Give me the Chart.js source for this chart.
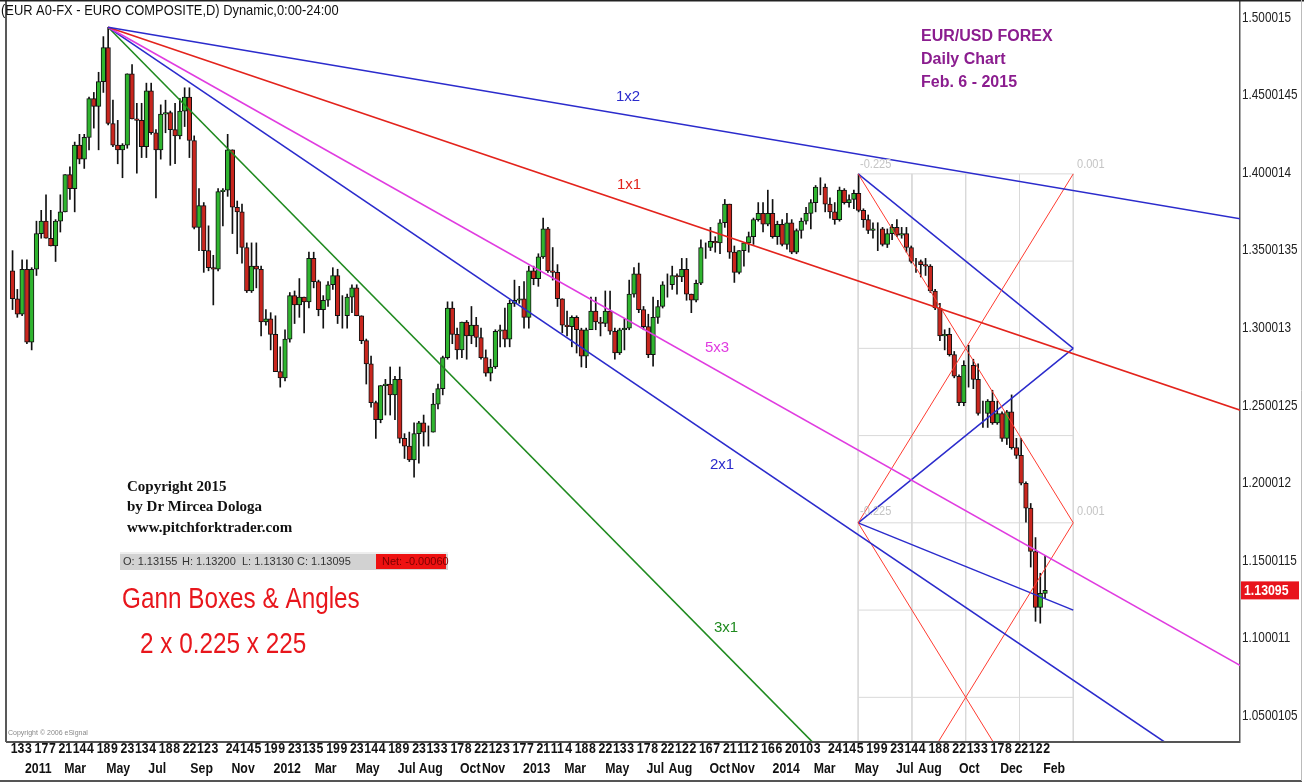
<!DOCTYPE html>
<html>
<head>
<meta charset="utf-8">
<script src="https://cdn.jsdelivr.net/npm/chart.js"></script>
<style>
html, body { margin: 0; padding: 0; background: #fff; }
#wrap { width: 1314px; height: 783px; }
</style>
</head>
<body>
<div id="wrap"><canvas id="chart" width="1314" height="783"></canvas></div>
<script>
// weeks are counted from Mon 3 Jan 2011 (week 0); first bar is the week of 13 Dec 2010
const firstWeek = -3;

const opens = [
  1.3370,1.3190,1.3090,1.3380,1.2910,1.3380,1.3610,1.3690,1.3580,1.3530,
  1.3690,1.3750,1.3990,1.3900,1.4180,1.4090,1.4230,1.4480,1.4430,1.4590,
  1.4810,1.4320,1.4180,1.4150,1.4180,1.4640,1.4350,1.4340,1.4170,1.4530,
  1.4260,1.4150,1.4380,1.4390,1.4280,1.4240,1.4400,1.4490,1.4210,1.3650,
  1.3790,1.3500,1.3390,1.3380,1.3880,1.3890,1.4150,1.3780,1.3750,1.3520,
  1.3240,1.3400,1.3380,1.3040,1.3060,1.2960,1.2720,1.2680,1.2930,1.3210,
  1.3150,1.3200,1.3170,1.3450,1.3300,1.3120,1.3180,1.3280,1.3340,1.3080,
  1.3080,1.3200,1.3260,1.3080,1.2920,1.2770,1.2520,1.2410,1.2630,1.2640,
  1.2570,1.2670,1.2290,1.2240,1.2150,1.2320,1.2390,1.2330,1.2330,1.2510,
  1.2610,1.2810,1.3130,1.2960,1.2860,1.3040,1.2950,1.3020,1.2940,1.2810,
  1.2710,1.2750,1.2980,1.2990,1.2930,1.3160,1.3180,1.3190,1.3070,1.3370,
  1.3320,1.3460,1.3640,1.3370,1.3360,1.3190,1.3020,1.3010,1.3070,1.2990,
  1.2820,1.2990,1.3110,1.3040,1.3030,1.3110,1.2980,1.2840,1.2990,1.3000,
  1.3220,1.3350,1.3120,1.3010,1.2830,1.3070,1.3140,1.3280,1.3280,1.3340,
  1.3330,1.3380,1.3220,1.3180,1.3290,1.3520,1.3520,1.3560,1.3550,1.3680,
  1.3800,1.3490,1.3360,1.3500,1.3550,1.3590,1.3700,1.3740,1.3670,1.3740,
  1.3590,1.3670,1.3540,1.3680,1.3490,1.3630,1.3690,1.3740,1.3810,1.3910,
  1.3910,1.3800,1.3750,1.3700,1.3890,1.3810,1.3830,1.3870,1.3760,1.3700,
  1.3630,1.3640,1.3640,1.3540,1.3610,1.3650,1.3600,1.3610,1.3520,1.3430,
  1.3430,1.3410,1.3400,1.3240,1.3130,1.2950,1.2960,1.2830,1.2690,1.2520,
  1.2760,1.2760,1.2670,1.2450,1.2450,1.2530,1.2390,1.2450,1.2290,1.2460,
  1.2230,1.2180,1.2000,1.1840,1.1560,1.1200,1.1290
];
const highs = [
  1.3500,1.3250,1.3440,1.3440,1.3390,1.3690,1.3760,1.3860,1.3760,1.3700,
  1.3860,1.3990,1.4040,1.4200,1.4250,1.4250,1.4490,1.4520,1.4650,1.4880,
  1.4940,1.4470,1.4340,1.4190,1.4640,1.4700,1.4450,1.4450,1.4580,1.4580,
  1.4280,1.4440,1.4470,1.4400,1.4450,1.4480,1.4550,1.4550,1.4240,1.3900,
  1.3810,1.3660,1.3470,1.3900,1.3900,1.4250,1.4150,1.3820,1.3800,1.3550,
  1.3550,1.3550,1.3400,1.3120,1.3100,1.3080,1.2880,1.2990,1.3230,1.3240,
  1.3320,1.3200,1.3490,1.3490,1.3310,1.3210,1.3300,1.3390,1.3380,1.3210,
  1.3220,1.3280,1.3280,1.3080,1.2930,1.2820,1.2530,1.2630,1.2670,1.2750,
  1.2690,1.2750,1.2320,1.2330,1.2390,1.2400,1.2440,1.2370,1.2580,1.2640,
  1.2820,1.3170,1.3170,1.3000,1.3040,1.3050,1.3140,1.3070,1.3000,1.2860,
  1.2800,1.2990,1.3020,1.3130,1.3180,1.3310,1.3270,1.3300,1.3400,1.3400,
  1.3480,1.3710,1.3650,1.3520,1.3410,1.3190,1.3110,1.3080,1.3080,1.3000,
  1.3000,1.3200,1.3200,1.3070,1.3240,1.3240,1.3000,1.3000,1.3060,1.3310,
  1.3390,1.3420,1.3140,1.3090,1.3200,1.3180,1.3300,1.3350,1.3400,1.3350,
  1.3450,1.3450,1.3220,1.3310,1.3570,1.3550,1.3650,1.3590,1.3700,1.3830,
  1.3800,1.3530,1.3500,1.3550,1.3620,1.3710,1.3810,1.3810,1.3890,1.3830,
  1.3690,1.3700,1.3740,1.3700,1.3640,1.3710,1.3780,1.3830,1.3920,1.3970,
  1.3930,1.3840,1.3810,1.3910,1.3900,1.3860,1.3890,1.3993,1.3770,1.3730,
  1.3680,1.3680,1.3650,1.3640,1.3670,1.3700,1.3650,1.3650,1.3530,1.3450,
  1.3440,1.3450,1.3410,1.3250,1.3160,1.2990,1.3000,1.2850,1.2700,1.2790,
  1.2890,1.2800,1.2770,1.2530,1.2540,1.2600,1.2530,1.2460,1.2470,1.2570,
  1.2290,1.2290,1.2010,1.1870,1.1650,1.1420,1.1534
];
const lows = [
  1.3120,1.3070,1.3080,1.2900,1.2860,1.3340,1.3580,1.3580,1.3530,1.3430,
  1.3620,1.3750,1.3830,1.3750,1.4060,1.4030,1.4150,1.4290,1.4150,1.4520,
  1.4310,1.4170,1.4060,1.3970,1.4160,1.4350,1.4000,1.4100,1.4100,1.4250,
  1.3840,1.4090,1.4260,1.4050,1.4060,1.4220,1.4300,1.4100,1.3640,1.3500,
  1.3360,1.3370,1.3150,1.3370,1.3660,1.3850,1.3610,1.3480,1.3420,1.3230,
  1.3230,1.3260,1.2950,1.3020,1.2860,1.2720,1.2620,1.2660,1.2910,1.3030,
  1.3070,1.2970,1.3130,1.3260,1.3080,1.3000,1.3140,1.3250,1.3030,1.3000,
  1.3000,1.3100,1.3080,1.2900,1.2640,1.2490,1.2290,1.2390,1.2440,1.2440,
  1.2410,1.2260,1.2160,1.2140,1.2040,1.2130,1.2240,1.2240,1.2330,1.2480,
  1.2570,1.2800,1.2900,1.2800,1.2810,1.2800,1.2900,1.2880,1.2800,1.2690,
  1.2660,1.2740,1.2880,1.2880,1.2880,1.3140,1.3160,1.3000,1.3000,1.3280,
  1.3270,1.3450,1.3360,1.3310,1.3140,1.2970,1.2950,1.2880,1.2840,1.2750,
  1.2745,1.2990,1.2990,1.2950,1.3010,1.2960,1.2800,1.2830,1.2860,1.2990,
  1.3200,1.3100,1.2990,1.2810,1.2755,1.3030,1.3130,1.3200,1.3250,1.3220,
  1.3300,1.3180,1.3100,1.3170,1.3280,1.3450,1.3500,1.3490,1.3480,1.3650,
  1.3450,1.3295,1.3350,1.3400,1.3490,1.3540,1.3690,1.3620,1.3660,1.3580,
  1.3540,1.3530,1.3510,1.3480,1.3480,1.3580,1.3670,1.3640,1.3750,1.3860,
  1.3750,1.3710,1.3670,1.3690,1.3800,1.3780,1.3770,1.3750,1.3650,1.3610,
  1.3580,1.3500,1.3530,1.3520,1.3570,1.3590,1.3580,1.3490,1.3420,1.3360,
  1.3330,1.3340,1.3230,1.3120,1.2920,1.2860,1.2820,1.2680,1.2500,1.2500,
  1.2620,1.2610,1.2440,1.2360,1.2360,1.2380,1.2380,1.2270,1.2250,1.2220,
  1.2160,1.1990,1.1750,1.1460,1.1110,1.1098,1.1260
];
const closes = [
  1.3190,1.3090,1.3380,1.2910,1.3380,1.3610,1.3690,1.3580,1.3530,1.3690,
  1.3750,1.3990,1.3900,1.4180,1.4090,1.4230,1.4480,1.4430,1.4590,1.4810,
  1.4320,1.4180,1.4150,1.4180,1.4640,1.4350,1.4340,1.4170,1.4530,1.4260,
  1.4150,1.4380,1.4390,1.4280,1.4240,1.4400,1.4490,1.4210,1.3650,1.3790,
  1.3500,1.3390,1.3380,1.3880,1.3890,1.4150,1.3780,1.3750,1.3520,1.3240,
  1.3400,1.3380,1.3040,1.3060,1.2960,1.2720,1.2680,1.2930,1.3210,1.3150,
  1.3200,1.3170,1.3450,1.3300,1.3120,1.3180,1.3280,1.3340,1.3080,1.3080,
  1.3200,1.3260,1.3080,1.2920,1.2770,1.2520,1.2410,1.2630,1.2640,1.2570,
  1.2670,1.2290,1.2240,1.2150,1.2320,1.2390,1.2330,1.2330,1.2510,1.2610,
  1.2810,1.3130,1.2960,1.2860,1.3040,1.2950,1.3020,1.2940,1.2810,1.2710,
  1.2750,1.2980,1.2990,1.2930,1.3160,1.3180,1.3190,1.3070,1.3370,1.3320,
  1.3460,1.3640,1.3370,1.3360,1.3190,1.3020,1.3010,1.3070,1.2990,1.2820,
  1.2990,1.3110,1.3040,1.3030,1.3110,1.2980,1.2840,1.2990,1.3000,1.3220,
  1.3350,1.3120,1.3010,1.2830,1.3070,1.3140,1.3280,1.3280,1.3340,1.3330,
  1.3380,1.3220,1.3180,1.3290,1.3520,1.3520,1.3560,1.3550,1.3680,1.3800,
  1.3490,1.3360,1.3500,1.3550,1.3590,1.3700,1.3740,1.3670,1.3740,1.3590,
  1.3670,1.3540,1.3680,1.3490,1.3630,1.3690,1.3740,1.3810,1.3910,1.3910,
  1.3800,1.3750,1.3700,1.3890,1.3810,1.3830,1.3870,1.3760,1.3700,1.3630,
  1.3640,1.3640,1.3540,1.3610,1.3650,1.3600,1.3610,1.3520,1.3430,1.3430,
  1.3410,1.3400,1.3240,1.3130,1.2950,1.2960,1.2830,1.2690,1.2520,1.2760,
  1.2760,1.2670,1.2450,1.2450,1.2530,1.2390,1.2450,1.2290,1.2460,1.2230,
  1.2180,1.2000,1.1840,1.1560,1.1200,1.1290,1.1310
];

// right axis labels as the platform prints them
const priceTicks = ['1.500015','1.4500145','1.400014','1.3500135','1.300013',
                    '1.2500125','1.200012','1.1500115','1.100011','1.0500105'];

// day-of-month ticks (Mondays) and month/year ticks (first trading day)
const dayTickWeeks = [-3,0,2,5,7,10,13,15,18,20,23,26,28,31,33,36,39,42,45,48,50,53,55,58,61,63,66,68,71,74,
  76,79,81,84,87,89,92,94,97,100,102,105,107,110,113,115,118,120,123,126,128,131,133,136,139,141,144,146,149,152,
  154,157,159,162,165,168,171,174,176,179,181,184,187,189,192,194,197,200,202,205,207,210,213];
const dayTickLabels = ['13','3','17','7','21','14','4','18','9','23','13','4','18','8','22','12','3','24','14','5',
  '19','9','23','13','5','19','9','23','14','4','18','9','23','13','3','17','8','22','12','3','17','7','21','11','4',
  '18','8','22','13','3','17','8','22','12','2','16','7','21','11','2','16','6','20','10','3','24','14','5','19','9',
  '23','14','4','18','8','22','13','3','17','8','22','12','2'];
const monthTickWeeks = [0,8.2,17,25.8,34.6,43.2,52,60.6,69.2,78,82.4,91,95.6,104.2,112.8,121.4,130,134.6,
  143.2,147.8,156.4,165,173.6,182.2,186.8,195.4,204,213];
const monthTickLabels = ['2011','Mar','May','Jul','Sep','Nov','2012','Mar','May','Jul','Aug','Oct','Nov','2013',
  'Mar','May','Jul','Aug','Oct','Nov','2014','Mar','May','Jul','Aug','Oct','Dec','Feb'];

// Gann fan from the May 2011 top
const fanOrigin = [17.4, 1.4940];
const fanUnit = 0.0010425;           // price per week on the 1x1
const fanNames = ['1x2', '1x1', '5x3', '2x1', '3x1'];
const fanRatios = [0.5, 1, 5 / 3, 2, 3];
const fanColors = ['#2b2bcc', '#e3231c', '#e03ce0', '#2b2bcc', '#1f8a1f'];

// Gann boxes from the May 2014 top: 0.225 x 225 days
const boxStart = 174.3, boxTop = 1.3995, boxWeeks = 45, boxPrice = 0.225;
const lastClose = 1.13095;

const xMin = -3.97, xMax = 254.18, yMin = 1.0332, yMax = 1.5116;

const candles = opens.map((o, i) => ({ x: firstWeek + i + 0.4, o, h: highs[i], l: lows[i], c: closes[i] }));

function seg(p1, p2, color, width, order) {
  return {
    type: 'line',
    data: [{ x: p1[0], y: p1[1] }, { x: p2[0], y: p2[1] }],
    borderColor: color, borderWidth: width,
    pointRadius: 0, fill: false, tension: 0, order: order
  };
}

const datasets = [];

// box grid (light grey)
const boxRight = boxStart + boxWeeks;
const boxBottom = boxTop - 2 * boxPrice;
for (let k = 0; k <= 4; k++) {
  const w = boxStart + k * boxWeeks / 4;
  datasets.push(seg([w, boxTop], [w, boxBottom], '#d9d9d9', 1, 9));
}
for (let k = 0; k <= 8; k++) {
  const p = boxTop - k * boxPrice / 4;
  datasets.push(seg([boxStart, p], [boxRight, p], '#d9d9d9', 1, 9));
}

// candles: wicks then bodies
datasets.push({
  type: 'bar',
  data: candles.map(d => ({ x: d.x, y: [d.l, d.h] })),
  backgroundColor: '#111', barThickness: 1, grouped: false, order: 8
});
datasets.push({
  type: 'bar',
  data: candles.map(d => ({ x: d.x, y: [d.o, d.c] })),
  backgroundColor: candles.map(d => d.c >= d.o ? '#2fb52f' : '#c9261e'),
  borderColor: '#111', borderWidth: 1, borderSkipped: false,
  barThickness: 4.6, grouped: false, order: 7
});

// fan lines
fanRatios.forEach((r, i) => {
  const endW = 262;
  datasets.push(seg(fanOrigin, [endW, fanOrigin[1] - r * fanUnit * (endW - fanOrigin[0])], fanColors[i], 1.6, 1));
});

// box angles
const mid = boxTop - boxPrice;
datasets.push(seg([boxStart, boxTop], [boxRight, mid], '#ff3b30', 1, 2));
datasets.push(seg([boxStart, mid], [boxRight, boxTop], '#ff3b30', 1, 2));
datasets.push(seg([boxRight, mid], [boxStart, boxBottom], '#ff3b30', 1, 2));
datasets.push(seg([boxStart, mid], [boxRight, boxBottom], '#ff3b30', 1, 2));
datasets.push(seg([boxStart, boxTop], [boxRight, boxTop - boxPrice / 2], '#2b2bcc', 1.5, 2));
datasets.push(seg([boxStart, mid], [boxRight, boxTop - boxPrice / 2], '#2b2bcc', 1.5, 2));
datasets.push(seg([boxStart, mid], [boxRight, mid - boxPrice / 4], '#2b2bcc', 1.5, 2));

const sans = "'Liberation Sans', Arial, sans-serif";

// no narrow face is installed, so squeeze the regular one
function squeezed(ctx, str, x, y, sx) {
  ctx.save();
  ctx.translate(x, y);
  ctx.scale(sx, 1);
  ctx.fillText(str, 0, 0);
  ctx.restore();
}

const notes = {
  id: 'notes',
  afterDraw(chart) {
    const ctx = chart.ctx;
    const a = chart.chartArea;
    const xs = chart.scales.x, x2 = chart.scales.x2, ys = chart.scales.y;
    ctx.save();

    // frame
    ctx.strokeStyle = '#222';
    ctx.lineWidth = 1.5;
    ctx.beginPath(); ctx.moveTo(a.left, 0); ctx.lineTo(a.left, a.bottom); ctx.stroke();
    ctx.beginPath(); ctx.moveTo(0, 0.75); ctx.lineTo(1304, 0.75); ctx.stroke();
    ctx.strokeStyle = '#555';
    ctx.lineWidth = 2;
    ctx.beginPath(); ctx.moveTo(a.left, a.bottom); ctx.lineTo(a.right, a.bottom); ctx.stroke();
    ctx.beginPath(); ctx.moveTo(0, 781); ctx.lineTo(1302, 781); ctx.stroke();
    ctx.strokeStyle = '#bbb';
    ctx.lineWidth = 1;
    ctx.beginPath(); ctx.moveTo(1301.5, 0); ctx.lineTo(1301.5, 781); ctx.stroke();

    // axis labels, placed by the scales
    ctx.textBaseline = 'middle';
    ctx.textAlign = 'left';
    ctx.fillStyle = '#111';
    ctx.font = 'bold 15px ' + sans;
    xs.ticks.forEach((t, i) => squeezed(ctx, dayTickLabels[i], xs.getPixelForValue(t.value), 749, 0.82));
    x2.ticks.forEach((t, i) => squeezed(ctx, monthTickLabels[i], x2.getPixelForValue(t.value), 769, 0.82));
    ctx.fillStyle = '#222';
    ctx.font = '14px ' + sans;
    ys.ticks.forEach((t, i) => squeezed(ctx, priceTicks[i], a.right + 2, ys.getPixelForValue(t.value), 0.84));

    ctx.fillStyle = '#111';
    ctx.font = '15px ' + sans;
    squeezed(ctx, '(EUR A0-FX - EURO COMPOSITE,D) Dynamic,0:00-24:00', 1, 11, 0.86);

    ctx.fillStyle = '#8b1d8f';
    ctx.font = 'bold 16px ' + sans;
    ctx.fillText('EUR/USD FOREX', 921, 37);
    ctx.fillText('Daily Chart', 921, 60);
    ctx.fillText('Feb. 6 - 2015', 921, 83);

    // fan labels
    ctx.font = '15px ' + sans;
    ctx.textAlign = 'center';
    const fanLabelPos = [[628, 97], [629, 185], [717, 348], [722, 465], [726, 628]];
    fanNames.forEach((n, i) => {
      ctx.fillStyle = fanColors[i];
      ctx.fillText(n, fanLabelPos[i][0], fanLabelPos[i][1]);
    });

    // box labels
    ctx.textAlign = 'left';
    ctx.fillStyle = '#c4c4c4';
    ctx.font = '13px ' + sans;
    squeezed(ctx, '-0.225', 860, 164, 0.85);
    squeezed(ctx, '0.001', 1077, 164, 0.85);
    squeezed(ctx, '-0.225', 860, 511, 0.85);
    squeezed(ctx, '0.001', 1077, 511, 0.85);

    // copyright block
    ctx.textBaseline = 'alphabetic';
    ctx.fillStyle = '#111';
    ctx.font = "bold 15px 'Liberation Serif', 'Times New Roman', serif";
    ctx.fillText('Copyright 2015', 127, 491);
    ctx.fillText('by Dr Mircea Dologa', 127, 511);
    ctx.fillText('www.pitchforktrader.com', 127, 532);

    // OHLC strip
    ctx.fillStyle = '#d2d2d2';
    ctx.fillRect(120, 552, 328, 18);
    ctx.fillStyle = '#eeeeee';
    ctx.fillRect(120, 552, 328, 2);
    ctx.fillStyle = '#ee1111';
    ctx.fillRect(376, 554, 70, 15);
    ctx.textBaseline = 'middle';
    ctx.font = '11px ' + sans;
    ctx.fillStyle = '#333';
    ctx.fillText('O: 1.13155', 123, 561.5);
    ctx.fillText('H: 1.13200', 182, 561.5);
    ctx.fillText('L: 1.13130', 242, 561.5);
    ctx.fillText('C: 1.13095', 297, 561.5);
    ctx.fillStyle = '#7a0000';
    ctx.fillText('Net: -0.00060', 382, 561.5);

    // title of the study
    ctx.fillStyle = '#e8161c';
    ctx.font = '30px ' + sans;
    squeezed(ctx, 'Gann Boxes & Angles', 122, 600, 0.81);
    squeezed(ctx, '2 x 0.225 x 225', 140, 645, 0.81);

    ctx.fillStyle = '#888';
    ctx.font = '7px ' + sans;
    ctx.fillText('Copyright \u00a9 2006 eSignal', 8, 733);

    // last price flag on the axis
    const py = ys.getPixelForValue(lastClose);
    ctx.fillStyle = '#e8141c';
    ctx.fillRect(a.right + 1, py - 9, 58, 18);
    ctx.fillStyle = '#fff';
    ctx.font = 'bold 14px ' + sans;
    squeezed(ctx, '1.13095', a.right + 4, py + 0.5, 0.88);

    ctx.restore();
  }
};

new Chart(document.getElementById('chart'), {
  type: 'bar',
  data: { datasets: datasets },
  options: {
    responsive: false,
    devicePixelRatio: 1,
    animation: false,
    events: [],
    layout: { padding: { left: 6, right: 0, top: 0, bottom: 0 } },
    plugins: { legend: { display: false }, tooltip: { enabled: false } },
    scales: {
      x: {
        type: 'linear', position: 'bottom', min: xMin, max: xMax, offset: false, weight: 0,
        grid: { display: false, drawTicks: false, offset: false },
        border: { display: false },
        afterBuildTicks: s => { s.ticks = dayTickWeeks.map(v => ({ value: v })); },
        afterFit: s => { s.height = 20; s.paddingLeft = 0; s.paddingRight = 0; },
        ticks: { display: false, autoSkip: false }
      },
      x2: {
        type: 'linear', position: 'bottom', min: xMin, max: xMax, offset: false, weight: 1,
        grid: { display: false, drawTicks: false, offset: false },
        border: { display: false },
        afterBuildTicks: s => { s.ticks = monthTickWeeks.map(v => ({ value: v })); },
        afterFit: s => { s.height = 21; s.paddingLeft = 0; s.paddingRight = 0; },
        ticks: { display: false, autoSkip: false }
      },
      y: {
        type: 'linear', position: 'right', min: yMin, max: yMax,
        grid: { display: false, drawTicks: false },
        border: { display: true, color: '#555', width: 1.5 },
        afterBuildTicks: s => { s.ticks = priceTicks.map(t => ({ value: parseFloat(t) })); },
        afterFit: s => { s.width = 74; s.paddingTop = 0; s.paddingBottom = 0; },
        ticks: { display: false, autoSkip: false }
      }
    }
  },
  plugins: [notes]
});
</script>
</body>
</html>
